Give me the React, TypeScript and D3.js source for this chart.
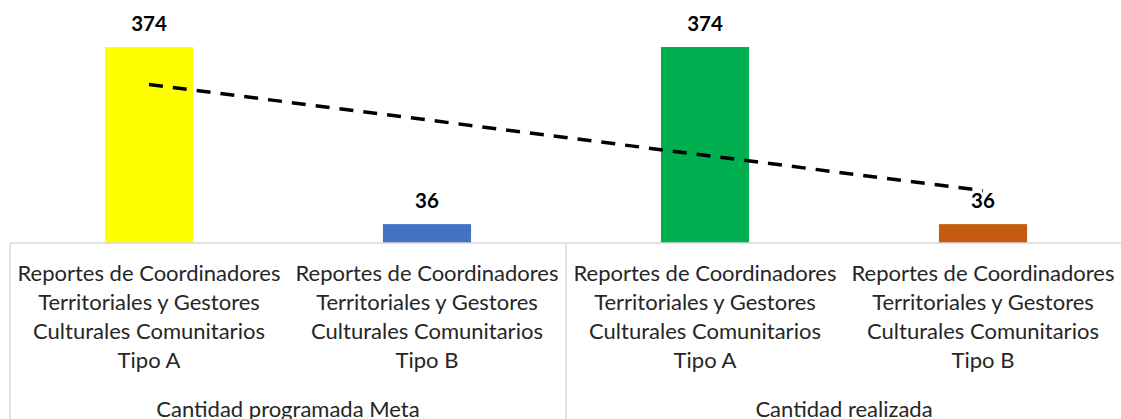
import * as d3 from "d3";
import { useEffect, useRef } from "react";

const groups = ["Cantidad programada Meta", "Cantidad realizada"];
const categoryLines = [
  "Reportes de Coordinadores",
  "Territoriales y Gestores",
  "Culturales Comunitarios",
];
const types = ["Tipo A", "Tipo B", "Tipo A", "Tipo B"];
const keys = ["meta-a", "meta-b", "real-a", "real-b"];
const values = [374, 36, 374, 36];
const colors = ["#FFFF00", "#4472C4", "#00B050", "#C55A11"];

export default function App() {
  const svgRef = useRef<SVGSVGElement | null>(null);

  useEffect(() => {
    if (!svgRef.current) return;
    const svg = d3.select(svgRef.current);
    const width = 1121;
    const height = 419;
    const font = "Lato, 'Open Sans', sans-serif";
    svg.selectAll("*").remove();

    const axisY = 243;
    const x = d3
      .scaleBand<string>()
      .domain(keys)
      .range([10, 1122])
      .paddingInner(0.683)
      .paddingOuter(0.3415);
    const y = d3.scaleLinear().domain([0, 400]).range([axisY, 33.4]);

    // bars
    svg
      .append("g")
      .selectAll("rect")
      .data(values)
      .join("rect")
      .attr("x", (_, i) => x(keys[i]) as number)
      .attr("y", (d) => y(d))
      .attr("width", x.bandwidth())
      .attr("height", (d) => axisY - y(d))
      .attr("fill", (_, i) => colors[i]);

    // value labels
    svg
      .append("g")
      .selectAll("text")
      .data(values)
      .join("text")
      .attr("x", (_, i) => (x(keys[i]) as number) + x.bandwidth() / 2)
      .attr("y", (d) => y(d) - 16)
      .attr("text-anchor", "middle")
      .attr("font-family", font)
      .attr("font-weight", "bold")
      .attr("font-size", 20.5)
      .attr("fill", "#000")
      .text((d) => d);

    // linear trendline
    const idx = values.map((_, i) => i + 1);
    const mx = d3.mean(idx) as number;
    const my = d3.mean(values) as number;
    const slope =
      d3.sum(idx, (xi, i) => (xi - mx) * (values[i] - my)) /
      d3.sum(idx, (xi) => (xi - mx) ** 2);
    const trend = idx.map((xi, i) => ({ key: keys[i], v: my + slope * (xi - mx) }));
    const ends = [trend[0], trend[trend.length - 1]];
    svg
      .append("path")
      .datum(ends)
      .attr("fill", "none")
      .attr("stroke", "#000")
      .attr("stroke-width", 3.5)
      .attr("stroke-dasharray", "14,10")
      .attr(
        "d",
        d3
          .line<any>()
          .x((d) => (x(d.key) as number) + x.bandwidth() / 2)
          .y((d) => y(d.v) + 2) as any
      );

    // axis lines
    const grid = "#D9D9D9";
    svg
      .append("line")
      .attr("x1", 10)
      .attr("x2", width)
      .attr("y1", axisY)
      .attr("y2", axisY)
      .attr("stroke", grid)
      .attr("stroke-width", 1.5);
    const step = x.step();
    [0, 2, 4].forEach((k) => {
      const xx = 10 + k * step;
      svg
        .append("line")
        .attr("x1", xx)
        .attr("x2", xx)
        .attr("y1", axisY)
        .attr("y2", height)
        .attr("stroke", grid)
        .attr("stroke-width", 1.5);
    });

    // category labels
    const catG = svg.append("g").attr("font-family", font).attr("font-size", 22).attr("fill", "#262626");
    keys.forEach((k, i) => {
      const cx = (x(k) as number) + x.bandwidth() / 2;
      [...categoryLines, types[i]].forEach((line, j) => {
        catG
          .append("text")
          .attr("x", cx)
          .attr("y", 281 + j * 29)
          .attr("text-anchor", "middle")
          .text(line);
      });
    });

    // group labels
    groups.forEach((g, gi) => {
      const cx = 10 + (gi * 2 + 1) * step;
      catG
        .append("text")
        .attr("x", cx)
        .attr("y", 417)
        .attr("text-anchor", "middle")
        .text(g);
    });
  }, []);

  return (
    <svg
      ref={svgRef}
      width={1121}
      height={419}
      style={{ position: "absolute", left: 0, top: 0, background: "#fff" }}
    />
  );
}
